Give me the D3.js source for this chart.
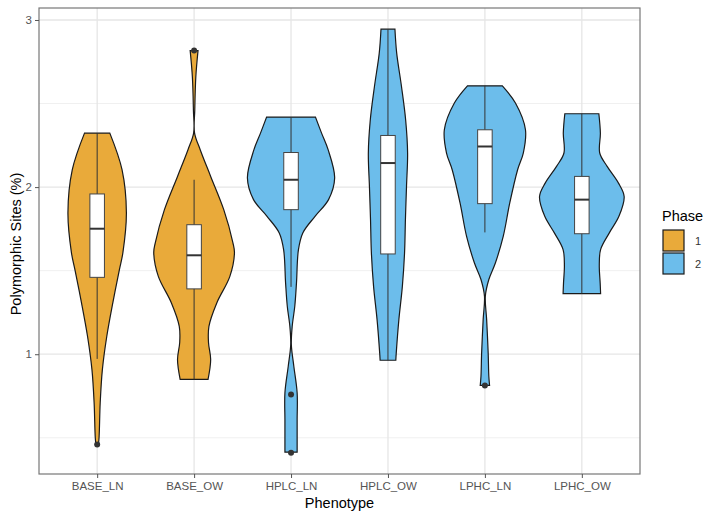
<!DOCTYPE html>
<html>
<head>
<meta charset="utf-8">
<script src="https://cdn.jsdelivr.net/npm/d3@7"></script>
<style>
  body { margin: 0; background: #fff; }
  svg { font-family: "Liberation Sans", Arial, sans-serif; }
</style>
</head>
<body>
<svg width="709" height="515"></svg>
<script>
// categories and phase
var phenotypes = ["BASE_LN", "BASE_OW", "HPLC_LN", "HPLC_OW", "LPHC_LN", "LPHC_OW"];
var phases = ["1", "1", "2", "2", "2", "2"];

// violin outlines: [value, relative density]
var baseLn = [[0.46,0.03],[0.508,0.045],[0.711,0.07],[0.909,0.12],[1.106,0.22],[1.309,0.36],[1.506,0.51],[1.608,0.59],[1.847,0.67],[2.104,0.57],[2.323,0.29]];
var baseOw = [[0.849,0.32],[0.968,0.38],[1.07,0.33],[1.167,0.34],[1.307,0.52],[1.466,0.82],[1.608,0.925],[1.667,0.89],[1.865,0.68],[2.064,0.38],[2.224,0.14],[2.325,0.01],[2.463,0.016],[2.662,0.04],[2.817,0.09]];
var hplcLn = [[0.414,0.14],[0.532,0.14],[0.61,0.14],[0.769,0.14],[0.928,0.064],[1.058,0.007],[1.167,0.027],[1.287,0.086],[1.427,0.125],[1.626,0.17],[1.726,0.27],[1.825,0.55],[1.925,0.86],[2.054,1.0],[2.224,0.85],[2.323,0.7],[2.419,0.56]];
var hplcOw = [[0.964,0.18],[1.008,0.19],[1.207,0.25],[1.406,0.33],[1.606,0.38],[1.805,0.4],[2.004,0.425],[2.204,0.45],[2.403,0.405],[2.602,0.31],[2.802,0.2],[2.945,0.16]];
var lphcLn = [[0.813,0.107],[0.868,0.09],[1.008,0.075],[1.207,0.04],[1.347,0.01],[1.447,0.09],[1.546,0.24],[1.705,0.42],[1.905,0.57],[2.104,0.75],[2.204,0.88],[2.343,0.93],[2.503,0.7],[2.606,0.4]];
var lphcOw = [[1.363,0.43],[1.427,0.42],[1.526,0.4],[1.626,0.43],[1.726,0.63],[1.825,0.85],[1.944,0.97],[2.024,0.84],[2.124,0.58],[2.204,0.41],[2.323,0.425],[2.439,0.39]];
var violins = [baseLn, baseOw, hplcLn, hplcOw, lphcLn, lphcOw];

// boxplot stats
var whiskerLow  = [0.972, 0.849, 1.403, 0.964, 1.729, 1.363];
var boxLower    = [1.46, 1.391, 1.865, 1.60, 1.901, 1.721];
var boxMedian   = [1.751, 1.592, 2.044, 2.144, 2.243, 1.925];
var boxUpper    = [1.959, 1.775, 2.207, 2.309, 2.343, 2.064];
var whiskerHigh = [2.323, 2.044, 2.419, 2.945, 2.606, 2.439];
var outliers    = [[0.46], [2.817], [0.759, 0.41], [], [0.813], []];

var yTicks = [1, 2, 3];
var yMinor = [0.5, 1.5, 2.5];

var phaseColors = {"1": "#E9AA3A", "2": "#6CBDEB"};

var svg = d3.select("svg"),
    margin = {top: 8, right: 69, bottom: 41, left: 39},
    width = +svg.attr("width"),
    height = +svg.attr("height");

var x = d3.scalePoint()
    .domain(phenotypes)
    .range([margin.left, width - margin.right])
    .padding(0.6);

var allVals = [];
violins.forEach(function(v) { v.forEach(function(p) { allVals.push(p[0]); }); });
outliers.forEach(function(o) { o.forEach(function(p) { allVals.push(p); }); });
var ext = d3.extent(allVals), pad = (ext[1] - ext[0]) * 0.05;

var y = d3.scaleLinear()
    .domain([ext[0] - pad, ext[1] + pad])
    .range([height - margin.bottom, margin.top]);

var unit = x.step();
var w = d3.scaleLinear().domain([0, 1]).range([0, unit * 0.45]);
var boxHalf = unit * 0.075;

// grid
var grid = svg.append("g");
grid.selectAll(".minor").data(yMinor).enter().append("line")
    .attr("x1", margin.left).attr("x2", width - margin.right)
    .attr("y1", function(d) { return y(d); }).attr("y2", function(d) { return y(d); })
    .attr("stroke", "#F0F0F0").attr("stroke-width", 1);
grid.selectAll(".major").data(yTicks).enter().append("line")
    .attr("x1", margin.left).attr("x2", width - margin.right)
    .attr("y1", function(d) { return y(d); }).attr("y2", function(d) { return y(d); })
    .attr("stroke", "#E6E6E6").attr("stroke-width", 1.3);
grid.selectAll(".vmajor").data(phenotypes).enter().append("line")
    .attr("y1", margin.top).attr("y2", height - margin.bottom)
    .attr("x1", function(d) { return x(d); }).attr("x2", function(d) { return x(d); })
    .attr("stroke", "#E6E6E6").attr("stroke-width", 1.3);

// violins
var area = d3.area()
    .curve(d3.curveCatmullRom.alpha(0.5))
    .y(function(d) { return y(d[0]); });

phenotypes.forEach(function(p, i) {
  var cx = x(p);
  area.x0(function(d) { return cx - w(d[1]); })
      .x1(function(d) { return cx + w(d[1]); });
  svg.append("path")
      .datum(violins[i])
      .attr("d", area)
      .attr("fill", phaseColors[phases[i]])
      .attr("stroke", "#1a1a1a")
      .attr("stroke-width", 1.2);

  var g = svg.append("g");
  g.append("line")
      .attr("x1", cx).attr("x2", cx)
      .attr("y1", y(whiskerLow[i])).attr("y2", y(whiskerHigh[i]))
      .attr("stroke", "#333").attr("stroke-width", 1);
  g.append("rect")
      .attr("x", cx - boxHalf).attr("width", boxHalf * 2)
      .attr("y", y(boxUpper[i])).attr("height", y(boxLower[i]) - y(boxUpper[i]))
      .attr("fill", "#fff").attr("stroke", "#444").attr("stroke-width", 1);
  g.append("line")
      .attr("x1", cx - boxHalf).attr("x2", cx + boxHalf)
      .attr("y1", y(boxMedian[i])).attr("y2", y(boxMedian[i]))
      .attr("stroke", "#333").attr("stroke-width", 2);
  g.selectAll("circle").data(outliers[i]).enter().append("circle")
      .attr("cx", cx).attr("cy", function(d) { return y(d); })
      .attr("r", 3).attr("fill", "#333");
});

// panel border
svg.append("rect")
    .attr("x", margin.left).attr("y", margin.top)
    .attr("width", width - margin.left - margin.right)
    .attr("height", height - margin.top - margin.bottom)
    .attr("fill", "none").attr("stroke", "#777").attr("stroke-width", 1.2);

// axes
var yAxis = svg.append("g")
    .attr("transform", "translate(" + margin.left + ",0)")
    .call(d3.axisLeft(y).tickValues(yTicks).tickSize(4).tickPadding(3).tickFormat(d3.format("d")));
var xAxis = svg.append("g")
    .attr("transform", "translate(0," + (height - margin.bottom) + ")")
    .call(d3.axisBottom(x).tickSize(4).tickPadding(4));
[xAxis, yAxis].forEach(function(a) {
  a.select(".domain").remove();
  a.selectAll(".tick line").attr("stroke", "#555");
  a.selectAll(".tick text").attr("fill", "#555").style("font-size", "11.5px");
});

svg.append("text")
    .attr("x", (margin.left + width - margin.right) / 2)
    .attr("y", 508)
    .attr("text-anchor", "middle")
    .style("font-size", "14.5px")
    .text("Phenotype");
svg.append("text")
    .attr("transform", "translate(21," + ((margin.top + height - margin.bottom) / 2 + 3) + ") rotate(-90)")
    .attr("text-anchor", "middle")
    .style("font-size", "14.5px")
    .text("Polymorphic Sites (%)");

// legend
var legend = svg.append("g").attr("transform", "translate(662,200)");
legend.append("text").attr("x", 0).attr("y", 21).style("font-size", "14.5px").text("Phase");
["1", "2"].forEach(function(k, i) {
  legend.append("rect")
      .attr("x", 1).attr("y", 30 + i * 23).attr("width", 21).attr("height", 21)
      .attr("fill", phaseColors[k]).attr("stroke", "#1a1a1a").attr("stroke-width", 1.2);
  legend.append("text")
      .attr("x", 33).attr("y", 45 + i * 23)
      .style("font-size", "11px").attr("fill", "#333").text(k);
});
</script>
</body>
</html>
